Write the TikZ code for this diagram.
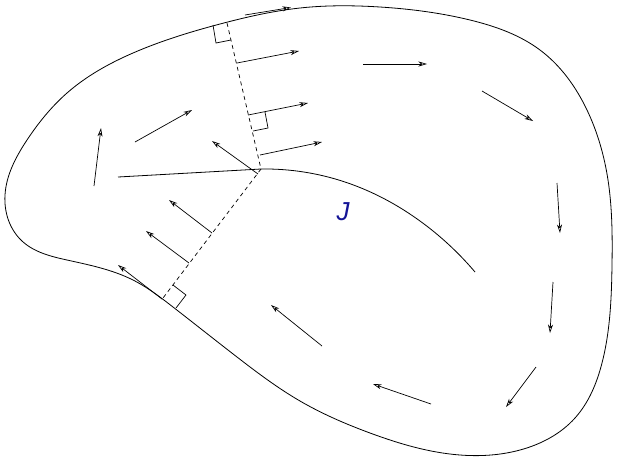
\documentclass[tikz,border=0pt]{standalone}
\usepackage{fontspec}
\setsansfont{Liberation Sans}
\usetikzlibrary{arrows.meta,hobby}
\definecolor{jblue}{RGB}{20,20,150}
\tikzset{
  vec/.style={line width=0.7pt,-{Stealth[open,length=8.5pt,width=5pt,inset=2.5pt]}},
  bd/.style={line width=0.8pt},
  guide/.style={line width=0.7pt,dash pattern=on 4pt off 3.5pt},
  rmark/.style={line width=0.7pt}
}
\begin{document}
\begin{tikzpicture}[x=1pt,y=-1pt]
\useasboundingbox (0,0) rectangle (617,456);
% boundary
\draw[bd,use Hobby shortcut,closed=true]
 (5,195) .. (27,140) .. (67,93) .. (133,53) .. (220,24) .. (300,8) .. (380,7)
 .. (470,20) .. (540,50) .. (587,110) .. (608,180) .. (612,265) .. (602,363)
 .. (575,418) .. (520,450) .. (460,455) .. (370,433) .. (300,401) .. (237,357)
 .. (173,307) .. (133,280) .. (67,260) .. (22,241);
% curve J
\coordinate (c) at (261,169);
\coordinate (jl) at (118,177);
\draw[bd] (jl) -- (c);
\draw[bd,use Hobby shortcut] (c) .. (345,182) .. (428,227) .. (475,272);
\node[font=\sffamily\itshape\fontsize{26}{26}\selectfont,text=jblue] (J) at (343,212) {J};
% dashed guides
\coordinate (gt) at (227,23);
\coordinate (gb) at (163,298);
\draw[guide] (gt) -- (c);
\draw[guide] (c) -- (gb);
% right-angle marks
\draw[rmark] (213,25) -- (216,43) -- (231,40);
\draw[rmark] (265,112) -- (268,128) -- (253,131);
\draw[rmark] (173,285) -- (186,295) -- (176,308);
% vectors
\draw[vec] (245,15) -- (291,7.5);
\draw[vec] (237,63) -- (299,51);
\draw[vec] (248,115) -- (308,103);
\draw[vec] (260,155) -- (322,142);
\draw[vec] (258,174) -- (212,141);
\draw[vec] (94,186) -- (101,128);
\draw[vec] (135,142) -- (192,110);
\draw[vec] (212,233) -- (169,200);
\draw[vec] (189,263) -- (146,231);
\draw[vec] (162,299) -- (118,265);
\draw[vec] (363,64) -- (427,64);
\draw[vec] (482,91) -- (533,121);
\draw[vec] (557,183) -- (560,233);
\draw[vec] (553,282) -- (550,333);
\draw[vec] (536,367) -- (506,407);
\draw[vec] (431,404) -- (373,384);
\draw[vec] (322,346) -- (271,305);
\end{tikzpicture}
\end{document}
